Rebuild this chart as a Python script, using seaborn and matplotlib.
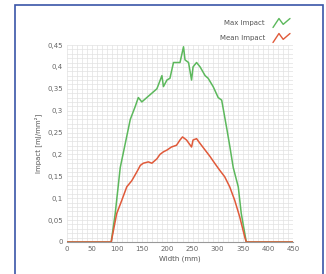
import numpy as np
import pandas as pd
import matplotlib
matplotlib.use("Agg")
import matplotlib.pyplot as plt
import seaborn as sns
from matplotlib.patches import Rectangle
from matplotlib.ticker import MultipleLocator, FuncFormatter

# width positions (mm) and impact values
max_width = [0, 88, 96, 106, 116, 126, 136, 142, 149, 159, 169, 179, 189, 192, 199, 205,
             212, 218, 225, 232, 235, 242, 248, 251, 258, 265, 275, 281, 291, 301, 308,
             318, 324, 331, 341, 347, 357, 450]
max_impact = [0, 0, 0.065, 0.17, 0.225, 0.28, 0.31, 0.33, 0.32, 0.33, 0.34, 0.35, 0.38, 0.355,
              0.37, 0.374, 0.41, 0.41, 0.41, 0.446, 0.416, 0.41, 0.37, 0.40, 0.41, 0.40, 0.38,
              0.374, 0.355, 0.33, 0.324, 0.26, 0.22, 0.17, 0.126, 0.065, 0, 0]

mean_width = [0, 88, 99, 109, 119, 129, 139, 146, 152, 162, 169, 179, 185, 192, 199, 208,
              218, 225, 230, 238, 248, 251, 258, 265, 275, 285, 294, 304, 314, 324, 334,
              344, 354, 357, 450]
mean_impact = [0, 0, 0.065, 0.095, 0.126, 0.14, 0.16, 0.175, 0.18, 0.183, 0.18, 0.19, 0.2,
               0.206, 0.21, 0.217, 0.221, 0.233, 0.24, 0.233, 0.217, 0.233, 0.236, 0.225,
               0.21, 0.195, 0.18, 0.164, 0.149, 0.126, 0.095, 0.057, 0.011, 0, 0]

df = pd.concat([
    pd.DataFrame({"Width": max_width, "Impact": max_impact, "Series": "Max Impact"}),
    pd.DataFrame({"Width": mean_width, "Impact": mean_impact, "Series": "Mean Impact"}),
])

sns.set_theme(style="white")
plt.rcParams['font.family'] = ['DejaVu Sans']

fig = plt.figure(figsize=(3.26, 2.74), dpi=100)
ax = fig.add_axes([67 / 326, 32 / 274, 226 / 326, 197 / 274])

sns.lineplot(data=df, x="Width", y="Impact", hue="Series",
             palette={"Max Impact": "#5cb85c", "Mean Impact": "#e05a3a"},
             linewidth=1.1, ax=ax, legend=False, sort=False)

ax.set_xlim(0, 450)
ax.set_ylim(0, 0.45)
ax.xaxis.set_major_locator(MultipleLocator(50))
ax.yaxis.set_major_locator(MultipleLocator(0.05))
ax.xaxis.set_minor_locator(MultipleLocator(10))
ax.yaxis.set_minor_locator(MultipleLocator(0.01))
ax.yaxis.set_major_formatter(FuncFormatter(lambda v, p: ("%g" % round(v, 2)).replace(".", ",")))
ax.grid(True, which="both", color="#e2e2e2", linewidth=0.5)
ax.set_axisbelow(True)
for s in ["top", "right", "left"]:
    ax.spines[s].set_visible(False)
ax.spines["bottom"].set_color("#999999")
ax.spines["bottom"].set_linewidth(0.8)
ax.tick_params(labelsize=5, colors="#666666", length=0, pad=3)
ax.set_xlabel("Width (mm)", fontsize=5, color="#555555", labelpad=2)
ax.set_ylabel("Impact [mJ/mm²]", fontsize=5, color="#555555", labelpad=4)

# legend above the plot, text then zigzag icon
zz_x = np.array([0, 0.35, 0.6, 1.0])
zz_y = np.array([0, 1, 0.35, 1])
for i, (name, col) in enumerate([("Max Impact", "#5cb85c"), ("Mean Impact", "#e05a3a")]):
    yc = 1 - (23 + 15 * i) / 274
    fig.text(265 / 326, yc, name, fontsize=5, color="#555555", ha="right", va="center")
    fig.lines.append(plt.Line2D((273 + 17 * zz_x) / 326, yc + (zz_y - 0.5) * 9 / 274,
                                transform=fig.transFigure, color=col, linewidth=1))

# blue frame around the figure
fig.patches.append(Rectangle((15 / 326, -0.01), 308 / 326, 1 - 5 / 274 + 0.01,
                             transform=fig.transFigure, fill=False,
                             edgecolor="#3a55a8", linewidth=1.2))

fig.savefig("out.png", dpi=100)
